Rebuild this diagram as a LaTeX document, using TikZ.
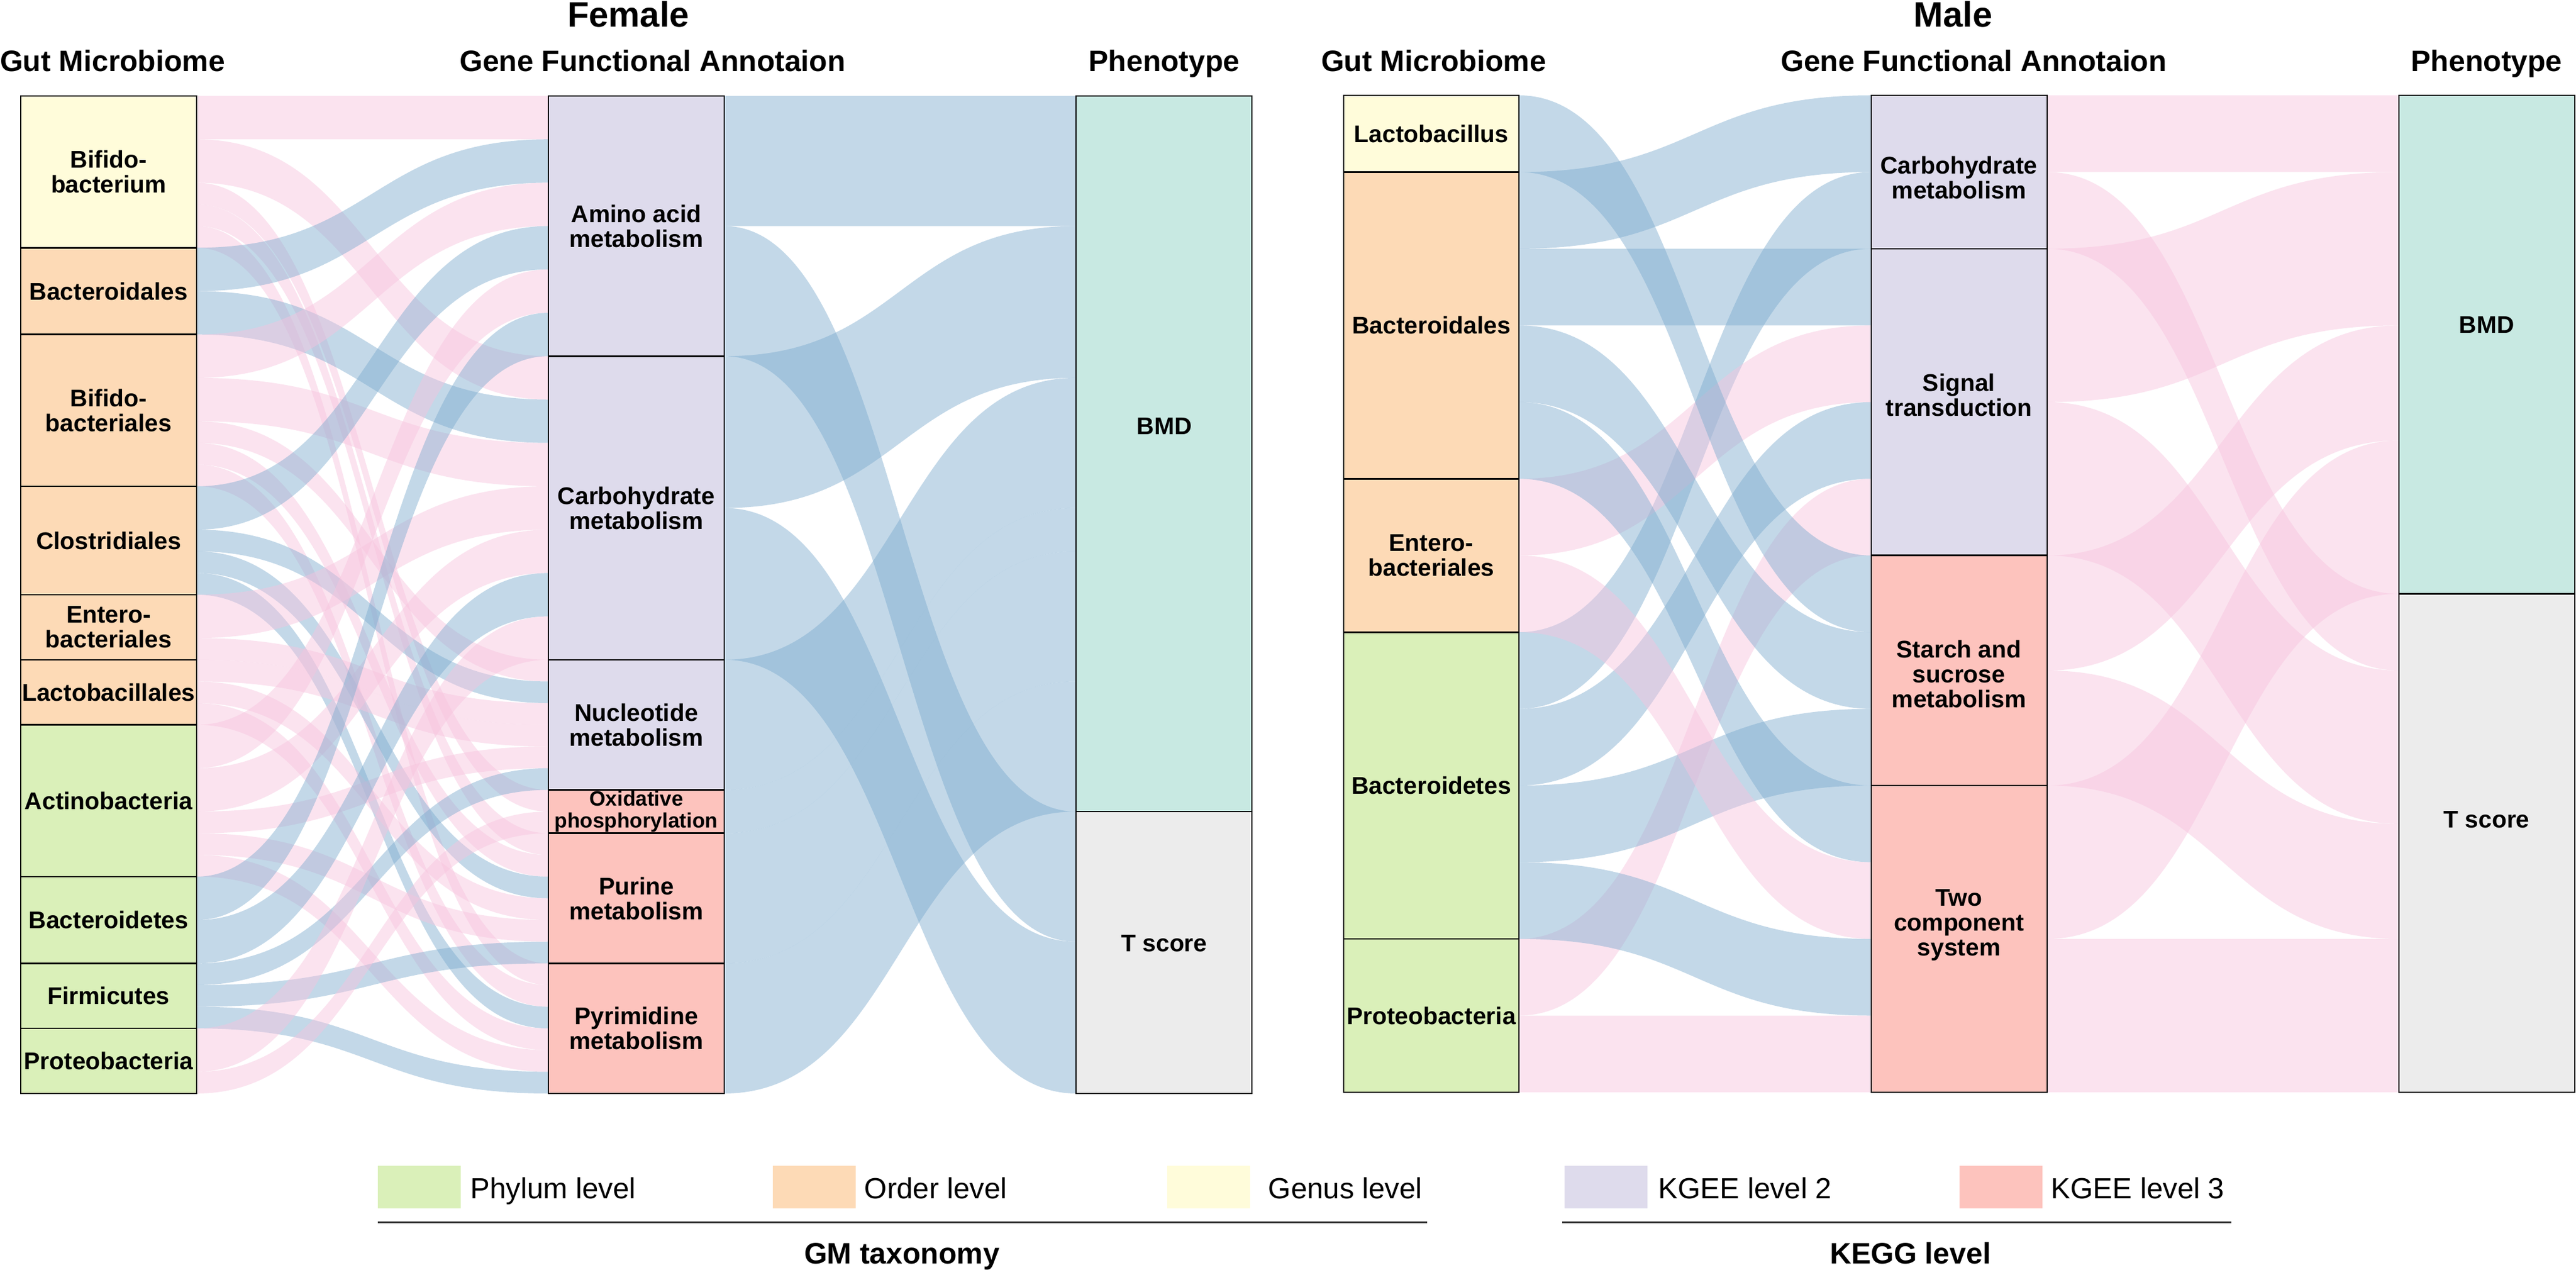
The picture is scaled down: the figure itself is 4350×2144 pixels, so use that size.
\documentclass[tikz,border=0pt]{standalone}
\usepackage{fontspec}
\setmainfont{Liberation Sans}
\usetikzlibrary{calc,fit,backgrounds}
\definecolor{cGenus}{RGB}{255,252,218}
\definecolor{cOrder}{RGB}{253,218,182}
\definecolor{cPhylum}{RGB}{218,240,185}
\definecolor{cKtwo}{RGB}{222,219,236}
\definecolor{cKthree}{RGB}{253,195,189}
\definecolor{cBMD}{RGB}{200,233,226}
\definecolor{cTs}{RGB}{236,236,236}
\definecolor{cRibB}{RGB}{125,172,207}
\definecolor{cRibP}{RGB}{247,196,222}
\definecolor{cLine}{RGB}{50,50,50}
\newcommand\mkbox[6]{%
  \node[nbox, fill=#2, fit={(#3,{\Utop+#5*\U}) (#4,{\Utop+#6*\U})}] (#1) {};}
\newcommand\rib[6]{%
  \path (#2.north east) ++(0,{#3*\U}) coordinate (ra1) ++(0,{#6*\U}) coordinate (ra2);
  \path (#4.north west) ++(0,{#5*\U}) coordinate (rb1) ++(0,{#6*\U}) coordinate (rb2);
  \path ($(ra1)!0.5!(rb1)$) coordinate (rm);
  \fill[#1] (ra1) .. controls (rm |- ra1) and (rm |- rb1) .. (rb1) -- (rb2)
     .. controls (rm |- rb2) and (rm |- ra2) .. (ra2) -- cycle;}
\begin{document}
\begin{tikzpicture}[x=0.1mm,y=-0.1mm,
  nbox/.style={draw=black, line width=0.26mm, inner sep=0pt, outer sep=0pt},
  rblue/.style={fill=cRibB, fill opacity=0.46},
  rpink/.style={fill=cRibP, fill opacity=0.46},
  ttl/.style={font=\bfseries\fontsize{14.2}{17}\selectfont, inner sep=0pt},
  bigttl/.style={font=\bfseries\fontsize{17}{20}\selectfont, inner sep=0pt},
  lab/.style={font=\bfseries\fontsize{11.6}{12}\selectfont, align=center, inner sep=0pt},
  leg/.style={font=\fontsize{14}{17}\selectfont, inner sep=0pt},
  legline/.style={draw=cLine, line width=0.3mm}]
\useasboundingbox (0,0) rectangle (4350,2144);
\begin{pgfonlayer}{background}
\fill[white] (0,0) rectangle (4350,2144);
\end{pgfonlayer}

% ---------------- FEMALE ----------------
\def\U{36.6087}\def\Utop{162}
\mkbox{fBb}{cGenus}{35}{332}{0}{7}
\mkbox{fBd}{cOrder}{35}{332}{7}{11}
\mkbox{fBs}{cOrder}{35}{332}{11}{18}
\mkbox{fCl}{cOrder}{35}{332}{18}{23}
\mkbox{fEn}{cOrder}{35}{332}{23}{26}
\mkbox{fLa}{cOrder}{35}{332}{26}{29}
\mkbox{fAc}{cPhylum}{35}{332}{29}{36}
\mkbox{fBt}{cPhylum}{35}{332}{36}{40}
\mkbox{fFi}{cPhylum}{35}{332}{40}{43}
\mkbox{fPr}{cPhylum}{35}{332}{43}{46}
\mkbox{fAA}{cKtwo}{926}{1223}{0}{12}
\mkbox{fCH}{cKtwo}{926}{1223}{12}{26}
\mkbox{fNU}{cKtwo}{926}{1223}{26}{32}
\mkbox{fOX}{cKthree}{926}{1223}{32}{34}
\mkbox{fPU}{cKthree}{926}{1223}{34}{40}
\mkbox{fPY}{cKthree}{926}{1223}{40}{46}
\mkbox{fBMD}{cBMD}{1817}{2114}{0}{33}
\mkbox{fT}{cTs}{1817}{2114}{33}{46}

\begin{pgfonlayer}{background}
\rib{rpink}{fBb}{0}{fAA}{0}{2}
\rib{rpink}{fBb}{2}{fCH}{0}{2}
\rib{rpink}{fBb}{4}{fOX}{0}{1}
\rib{rpink}{fBb}{5}{fPU}{0}{1}
\rib{rpink}{fBb}{6}{fPY}{0}{1}
\rib{rblue}{fBd}{0}{fAA}{2}{2}
\rib{rblue}{fBd}{2}{fCH}{2}{2}
\rib{rpink}{fBs}{0}{fAA}{4}{2}
\rib{rpink}{fBs}{2}{fCH}{4}{2}
\rib{rpink}{fBs}{4}{fNU}{0}{1}
\rib{rpink}{fBs}{5}{fPU}{1}{1}
\rib{rpink}{fBs}{6}{fPY}{1}{1}
\rib{rblue}{fCl}{0}{fAA}{6}{2}
\rib{rblue}{fCl}{2}{fNU}{1}{1}
\rib{rblue}{fCl}{3}{fPU}{2}{1}
\rib{rblue}{fCl}{4}{fPY}{2}{1}
\rib{rpink}{fEn}{0}{fCH}{6}{2}
\rib{rpink}{fEn}{2}{fNU}{2}{1}
\rib{rpink}{fLa}{0}{fNU}{3}{1}
\rib{rpink}{fLa}{1}{fPU}{3}{1}
\rib{rpink}{fLa}{2}{fPY}{3}{1}
\rib{rpink}{fAc}{0}{fAA}{8}{2}
\rib{rpink}{fAc}{2}{fCH}{8}{2}
\rib{rpink}{fAc}{4}{fNU}{4}{1}
\rib{rpink}{fAc}{5}{fPU}{4}{1}
\rib{rpink}{fAc}{6}{fPY}{4}{1}
\rib{rblue}{fBt}{0}{fAA}{10}{2}
\rib{rblue}{fBt}{2}{fCH}{10}{2}
\rib{rblue}{fFi}{0}{fNU}{5}{1}
\rib{rblue}{fFi}{1}{fPU}{5}{1}
\rib{rblue}{fFi}{2}{fPY}{5}{1}
\rib{rpink}{fPr}{0}{fCH}{12}{2}
\rib{rpink}{fPr}{2}{fOX}{1}{1}
\rib{rblue}{fAA}{0}{fBMD}{0}{6}
\rib{rblue}{fAA}{6}{fT}{0}{6}
\rib{rblue}{fCH}{0}{fBMD}{6}{7}
\rib{rblue}{fCH}{7}{fT}{6}{7}
\rib{rblue}{fNU}{0}{fBMD}{13}{6}
\rib{rblue}{fOX}{0}{fBMD}{19}{2}
\rib{rblue}{fPU}{0}{fBMD}{21}{6}
\rib{rblue}{fPY}{0}{fBMD}{27}{6}
\end{pgfonlayer}

\node[lab] (fBbL) at (fBb.center) {Bifido-\\bacterium};
\node[lab] (fBdL) at (fBd.center) {Bacteroidales};
\node[lab] (fBsL) at (fBs.center) {Bifido-\\bacteriales};
\node[lab] (fClL) at (fCl.center) {Clostridiales};
\node[lab] (fEnL) at (fEn.center) {Entero-\\bacteriales};
\node[lab] (fLaL) at (fLa.center) {Lactobacillales};
\node[lab] (fAcL) at (fAc.center) {Actinobacteria};
\node[lab] (fBtL) at (fBt.center) {Bacteroidetes};
\node[lab] (fFiL) at (fFi.center) {Firmicutes};
\node[lab] (fPrL) at (fPr.center) {Proteobacteria};
\node[lab] (fAAL) at (fAA.center) {Amino acid\\metabolism};
\node[lab] (fCHL) at (fCH.center) {Carbohydrate\\metabolism};
\node[lab] (fNUL) at (fNU.center) {Nucleotide\\metabolism};
\node[lab, font=\bfseries\fontsize{10}{10.5}\selectfont] (fOXL) at (fOX.center) {Oxidative\\phosphorylation};
\node[lab] (fPUL) at (fPU.center) {Purine\\metabolism};
\node[lab] (fPYL) at (fPY.center) {Pyrimidine\\metabolism};
\node[lab] (fBMDL) at (1966,719) {BMD};
\node[lab] (fTL) at (1966,1593) {T score};

\node[bigttl, anchor=base] (fTitle) at (1061,46) {Female};
\node[ttl, anchor=base] (fH1) at (190,121) {Gut Microbiome};
\node[ttl, anchor=base] (fH2) at (1102,121) {Gene Functional Annotaion};
\node[ttl, anchor=base] (fH3) at (1966,121) {Phenotype};

% ---------------- MALE ----------------
\def\U{129.46}\def\Utop{161}
\mkbox{mLb}{cGenus}{2269}{2565}{0}{1}
\mkbox{mBd}{cOrder}{2269}{2565}{1}{5}
\mkbox{mEn}{cOrder}{2269}{2565}{5}{7}
\mkbox{mBt}{cPhylum}{2269}{2565}{7}{11}
\mkbox{mPr}{cPhylum}{2269}{2565}{11}{13}
\mkbox{mCH}{cKtwo}{3160}{3457}{0}{2}
\mkbox{mST}{cKtwo}{3160}{3457}{2}{6}
\mkbox{mSS}{cKthree}{3160}{3457}{6}{9}
\mkbox{mTC}{cKthree}{3160}{3457}{9}{13}
\mkbox{mBMD}{cBMD}{4051}{4348}{0}{6.5}
\mkbox{mT}{cTs}{4051}{4348}{6.5}{13}

\begin{pgfonlayer}{background}
\rib{rblue}{mBd}{0}{mCH}{0}{1}
\rib{rblue}{mBt}{0}{mCH}{1}{1}
\rib{rblue}{mBd}{1}{mST}{0}{1}
\rib{rpink}{mEn}{0}{mST}{1}{1}
\rib{rblue}{mBt}{1}{mST}{2}{1}
\rib{rpink}{mPr}{0}{mST}{3}{1}
\rib{rblue}{mLb}{0}{mSS}{0}{1}
\rib{rblue}{mBd}{2}{mSS}{1}{1}
\rib{rblue}{mBt}{2}{mSS}{2}{1}
\rib{rblue}{mBd}{3}{mTC}{0}{1}
\rib{rpink}{mEn}{1}{mTC}{1}{1}
\rib{rblue}{mBt}{3}{mTC}{2}{1}
\rib{rpink}{mPr}{1}{mTC}{3}{1}
\rib{rpink}{mCH}{0}{mBMD}{0}{1}
\rib{rpink}{mCH}{1}{mT}{0}{1}
\rib{rpink}{mST}{0}{mBMD}{1}{2}
\rib{rpink}{mST}{2}{mT}{1}{2}
\rib{rpink}{mSS}{0}{mBMD}{3}{1.5}
\rib{rpink}{mSS}{1.5}{mT}{3}{1.5}
\rib{rpink}{mTC}{0}{mBMD}{4.5}{2}
\rib{rpink}{mTC}{2}{mT}{4.5}{2}
\end{pgfonlayer}

\node[lab] (mLbL) at (mLb.center) {Lactobacillus};
\node[lab] (mBdL) at (mBd.center) {Bacteroidales};
\node[lab] (mEnL) at (mEn.center) {Entero-\\bacteriales};
\node[lab] (mBtL) at (mBt.center) {Bacteroidetes};
\node[lab] (mPrL) at (mPr.center) {Proteobacteria};
\node[lab] (mCHL) at (3308,300) {Carbohydrate\\metabolism};
\node[lab] (mSTL) at (3308,667) {Signal\\transduction};
\node[lab] (mSSL) at (3308,1138) {Starch and\\sucrose\\metabolism};
\node[lab] (mTCL) at (3308,1562) {Two\\component\\system};
\node[lab] (mBMDL) at (4199,548) {BMD};
\node[lab] (mTL) at (4199,1384) {T score};

\node[bigttl, anchor=base] (mTitle) at (3298,46) {Male};
\node[ttl, anchor=base] (mH1) at (2421,121) {Gut Microbiome};
\node[ttl, anchor=base] (mH2) at (3333,121) {Gene Functional Annotaion};
\node[ttl, anchor=base] (mH3) at (4199,121) {Phenotype};

% ---------------- LEGEND ----------------
\fill[cPhylum] (638,1968) rectangle (778,2040);
\node[leg, anchor=base west] (lg1) at (794,2023) {Phylum level};
\fill[cOrder] (1305,1968) rectangle (1445,2040);
\node[leg, anchor=base west] (lg2) at (1459,2023) {Order level};
\fill[cGenus] (1971,1968) rectangle (2111,2040);
\node[leg, anchor=base west] (lg3) at (2141,2023) {Genus level};
\fill[cKtwo] (2642,1968) rectangle (2782,2040);
\node[leg, anchor=base west] (lg4) at (2800,2023) {KGEE level 2};
\fill[cKthree] (3309,1968) rectangle (3449,2040);
\node[leg, anchor=base west] (lg5) at (3463,2023) {KGEE level 3};
\draw[legline] (638,2063) -- (2410,2063);
\draw[legline] (2638,2063) -- (3768,2063);
\node[ttl, anchor=base] (lgA) at (1523,2133) {GM taxonomy};
\node[ttl, anchor=base] (lgB) at (3226,2133) {KEGG level};
\end{tikzpicture}
\end{document}
